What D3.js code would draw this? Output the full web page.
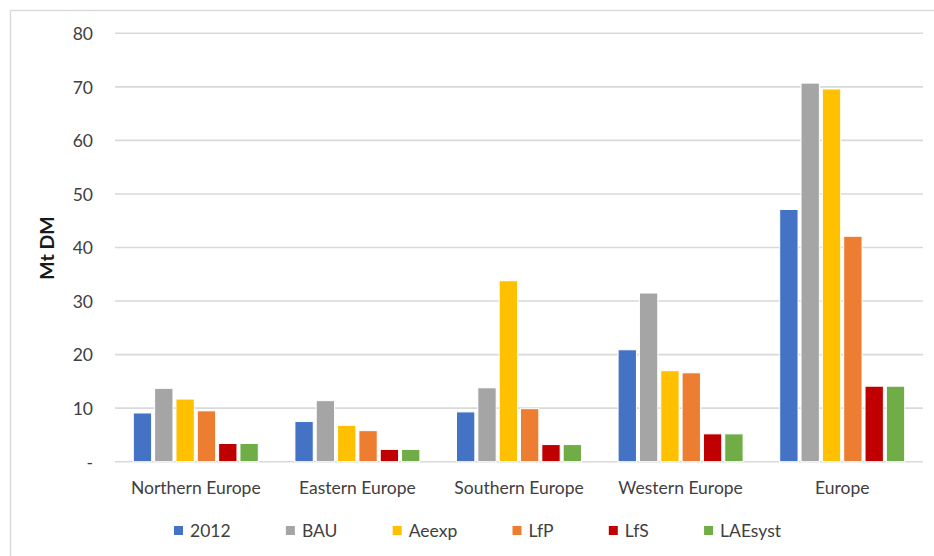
<!DOCTYPE html>
<html>
<head>
<meta charset="utf-8">
<script src="https://cdn.jsdelivr.net/npm/d3@7"></script>
<style>
  html, body { margin: 0; padding: 0; background: #fff; }
  svg { display: block; }
  text { font-family: Lato, "Open Sans", sans-serif; fill: #404040; }
</style>
</head>
<body>
<svg id="chart" width="934" height="556"></svg>
<script>
// Regions on the category axis
const regions = ["Northern Europe", "Eastern Europe", "Southern Europe", "Western Europe", "Europe"];

// Scenario names, in legend order
const scenarios = ["2012", "BAU", "Aeexp", "LfP", "LfS", "LAEsyst"];

// Values (Mt DM) for each scenario, one entry per region
const v2012    = [9.1, 7.5, 9.3, 20.9, 47.1];
const vBAU     = [13.7, 11.4, 13.8, 31.5, 70.7];
const vAeexp   = [11.7, 6.8, 33.8, 17.0, 69.6];
const vLfP     = [9.5, 5.8, 9.9, 16.6, 42.1];
const vLfS     = [3.4, 2.3, 3.2, 5.2, 14.1];
const vLAEsyst = [3.4, 2.3, 3.2, 5.2, 14.1];

// Y axis ticks
const yTicks = [0, 10, 20, 30, 40, 50, 60, 70, 80];
const yTickLabels = ["-", "10", "20", "30", "40", "50", "60", "70", "80"];

const colors = ["#4472C4", "#A5A5A5", "#FFC000", "#ED7D31", "#C00000", "#70AD47"];

const FONT = "Lato, 'Open Sans', sans-serif";
const FS = 17.5;

const seriesValues = [v2012, vBAU, vAeexp, vLfP, vLfS, vLAEsyst];
const rows = regions.map((r, i) => ({
  region: r,
  values: scenarios.map((s, j) => ({ key: s, value: seriesValues[j][i] }))
}));

const svg = d3.select("#chart");

// Chart frame
svg.append("rect")
  .attr("x", 10.5).attr("y", 10.5)
  .attr("width", 930).attr("height", 550)
  .attr("fill", "none").attr("stroke", "#D9D9D9").attr("stroke-width", 1.3);

const plot = { left: 115, right: 923, top: 33.3, bottom: 461.7 };

const x0 = d3.scaleBand()
  .domain(regions)
  .range([plot.left, plot.right])
  .paddingInner(0.208)
  .paddingOuter(0.104);

const x1 = d3.scaleBand()
  .domain(scenarios)
  .range([0, x0.bandwidth()])
  .paddingInner(0.14)
  .paddingOuter(0.07);

const y = d3.scaleLinear().domain([0, 80]).range([plot.bottom, plot.top]);

const color = d3.scaleOrdinal().domain(scenarios).range(colors);

// Horizontal gridlines
svg.append("g")
  .selectAll("line")
  .data(yTicks)
  .join("line")
  .attr("x1", plot.left).attr("x2", plot.right)
  .attr("y1", d => y(d)).attr("y2", d => y(d))
  .attr("stroke", "#D9D9D9").attr("stroke-width", 1.6);

// Y axis labels
const yAxis = d3.axisLeft(y)
  .tickValues(yTicks)
  .tickSize(0)
  .tickPadding(0)
  .tickFormat((d, i) => yTickLabels[i]);

const gy = svg.append("g")
  .attr("transform", `translate(${93},0)`)
  .call(yAxis);
gy.select(".domain").remove();
gy.selectAll("text")
  .attr("font-size", FS)
  .style("font-family", FONT)
  .attr("fill", "#595959")
  .attr("dy", "0.36em");

// Y axis title
svg.append("text")
  .attr("transform", `translate(${54},${248}) rotate(-90)`)
  .attr("text-anchor", "middle")
  .attr("font-size", 19.5)
  .attr("font-weight", "bold")
  .style("fill", "#1a1a1a")
  .text("Mt DM");

// Bars
const groups = svg.append("g")
  .selectAll("g")
  .data(rows)
  .join("g")
  .attr("transform", d => `translate(${x0(d.region)},0)`);

groups.selectAll("rect")
  .data(d => d.values)
  .join("rect")
  .attr("x", d => x1(d.key))
  .attr("width", x1.bandwidth())
  .attr("y", d => y(d.value))
  .attr("height", d => y(0) - y(d.value))
  .attr("fill", d => color(d.key))
  .attr("stroke", "#fff")
  .attr("stroke-width", 1);

// Category axis labels
const xAxis = d3.axisBottom(x0).tickSize(0).tickPadding(0);
const gx = svg.append("g")
  .attr("transform", `translate(0,${plot.bottom})`)
  .call(xAxis);
gx.select(".domain").remove();
gx.selectAll("text")
  .attr("font-size", FS)
  .style("font-family", FONT)
  .attr("fill", "#404040")
  .attr("y", 26)
  .attr("dy", "0.36em");

// Legend, spread between its two end points
const legend = svg.append("g");
const items = legend.selectAll("g")
  .data(scenarios)
  .join("g");
items.append("rect")
  .attr("width", 9).attr("height", 9)
  .attr("y", -4.5)
  .attr("fill", d => color(d));
items.append("text")
  .attr("x", 16)
  .attr("dy", "0.36em")
  .attr("font-size", FS)
  .style("font-family", FONT)
  .attr("fill", "#404040")
  .text(d => d);

const widths = [];
items.each(function () {
  widths.push(16 + d3.select(this).select("text").node().getComputedTextLength());
});
const legendLeft = 174, legendRight = 781;
const gap = (legendRight - legendLeft - d3.sum(widths)) / (widths.length - 1);
const offsets = [];
let cursor = legendLeft;
widths.forEach(w => { offsets.push(cursor); cursor += w + gap; });
items.attr("transform", (d, i) => `translate(${offsets[i]},${530.5})`);
</script>
</body>
</html>
